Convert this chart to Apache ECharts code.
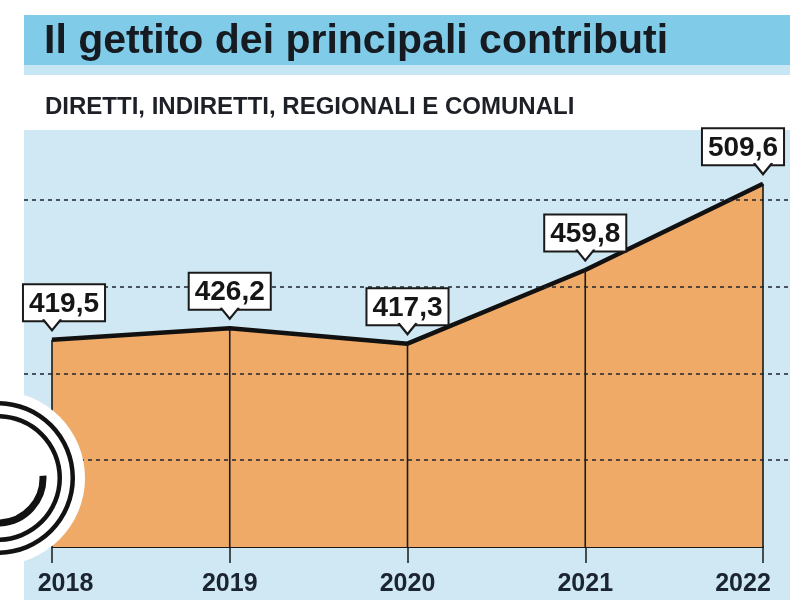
<!DOCTYPE html>
<html>
<head>
<meta charset="utf-8">
<script src="https://cdn.jsdelivr.net/npm/echarts@6/dist/echarts.min.js"></script>
<style>
html,body{margin:0;padding:0;background:#ffffff;}
#chart{width:800px;height:610px;}
</style>
</head>
<body>
<div id="chart"></div>
<script>
// ---- data ----
const years = ['2018', '2019', '2020', '2021', '2022'];
const gettito = [419.5, 426.2, 417.3, 459.8, 509.6];
const gridValues = [350, 400, 450, 500];
const titleText = 'Il gettito dei principali contributi';
const subtitleText = 'DIRETTI, INDIRETTI, REGIONALI E COMUNALI';

// ---- style ----
const FONT = '"Liberation Sans", Arial, sans-serif';
const labelShift = [12, 0, 0, 0, -20];
const pointerPath = 'path://M0,0 L9,11 L18,0';

const chart = echarts.init(document.getElementById('chart'), null, {renderer: 'canvas'});

const fmt = v => v.toFixed(1).replace('.', ',');

const option = {
  backgroundColor: '#ffffff',
  animation: false,
  title: [
    {
      text: titleText, left: 39, top: 16,
      textStyle: {fontFamily: FONT, fontSize: 41, fontWeight: 'bold', color: '#161b22'}
    },
    {
      text: subtitleText, left: 40, top: 90,
      textStyle: {fontFamily: FONT, fontSize: 24, fontWeight: 'bold', color: '#1d2127'}
    }
  ],
  graphic: [
    {type: 'rect', z: -10, shape: {x: 24, y: 15, width: 766, height: 50}, style: {fill: '#80cbe8'}},
    {type: 'rect', z: -10, shape: {x: 24, y: 65, width: 766, height: 10}, style: {fill: '#c6e6f3'}},
    {type: 'rect', z: -10, shape: {x: 24, y: 130, width: 766, height: 470}, style: {fill: '#cfe8f3'}},
    {type: 'circle', z: 100, shape: {cx: -2, cy: 478, r: 87}, style: {fill: '#ffffff'}},
    {type: 'ring', z: 101, shape: {cx: -2, cy: 478, r: 77, r0: 72.5}, style: {fill: '#121212'}},
    {type: 'ring', z: 101, shape: {cx: -2, cy: 478, r: 64, r0: 59.5}, style: {fill: '#121212'}},
    {type: 'arc', z: 101, shape: {cx: -2, cy: 478, r: 45, startAngle: -0.05, endAngle: 2.3, clockwise: true},
      style: {stroke: '#121212', lineWidth: 7, fill: null}}
  ],
  grid: [
    {left: 52, right: 37, top: 131, bottom: 63},
    {left: 24, right: 10, top: 131, bottom: 63}
  ],
  xAxis: [
    {
      type: 'category', gridIndex: 0, data: years, boundaryGap: false,
      axisLine: {show: true, lineStyle: {color: '#1a1a1a', width: 2}},
      axisTick: {show: true, alignWithLabel: true, length: 16, lineStyle: {color: '#1a1a1a', width: 1.5}},
      axisLabel: {
        margin: 25, fontFamily: FONT, fontSize: 25, fontWeight: 'bold', color: '#1b2431',
        formatter: (v, i) => i === 0 ? '{a|' + v + '}' : (i === years.length - 1 ? '{b|' + v + '}' : v),
        rich: {
          a: {padding: [0, 0, 0, 27], fontFamily: FONT, fontSize: 25, fontWeight: 'bold', color: '#1b2431'},
          b: {padding: [0, 40, 0, 0], fontFamily: FONT, fontSize: 25, fontWeight: 'bold', color: '#1b2431'}
        }
      },
      splitLine: {show: false}
    },
    {type: 'value', gridIndex: 1, min: 0, max: 1, show: false}
  ],
  yAxis: [
    {type: 'value', gridIndex: 0, min: 300, max: 540, show: false, splitLine: {show: false}},
    {type: 'value', gridIndex: 1, min: 300, max: 540, show: false, splitLine: {show: false}}
  ],
  series: [
    {
      type: 'line', xAxisIndex: 0, yAxisIndex: 0, data: gettito, z: 2,
      symbol: 'none', smooth: false,
      lineStyle: {color: '#111111', width: 4.5},
      areaStyle: {color: '#f0aa68', opacity: 1}
    },
    {
      type: 'bar', xAxisIndex: 0, yAxisIndex: 0, data: gettito, z: 3,
      barWidth: 1.6, clip: true, itemStyle: {color: '#1a1a1a'}
    },
    {
      type: 'custom', xAxisIndex: 1, yAxisIndex: 1, z: 4, silent: true,
      data: gridValues.map(v => [0, v]),
      renderItem: (params, api) => {
        const y = Math.round(api.coord([0, api.value(1)])[1]);
        const cs = params.coordSys;
        return {
          type: 'line',
          shape: {x1: cs.x, y1: y, x2: cs.x + cs.width, y2: y},
          style: {stroke: 'rgba(30,35,45,0.75)', lineWidth: 2, lineDash: [4, 4]}
        };
      }
    },
    {
      type: 'line', xAxisIndex: 0, yAxisIndex: 0, z: 5, silent: true,
      lineStyle: {opacity: 0}, symbol: 'circle', symbolSize: 1,
      itemStyle: {opacity: 0},
      data: gettito.map((v, i) => ({
        value: v,
        label: {offset: [labelShift[i], 0]}
      })),
      label: {
        show: true, position: 'top', distance: 19,
        formatter: p => fmt(p.value),
        fontFamily: FONT, fontSize: 28, fontWeight: 'bold', color: '#161616',
        backgroundColor: '#ffffff', borderColor: '#1a1a1a', borderWidth: 2,
        padding: [5, 5, 2, 5], opacity: 1
      }
    },
    {
      type: 'scatter', xAxisIndex: 0, yAxisIndex: 0, z: 6, silent: true,
      data: gettito,
      symbol: pointerPath, symbolSize: [18, 11], symbolOffset: [0, -15],
      symbolKeepAspect: false,
      itemStyle: {color: '#ffffff', borderColor: '#1a1a1a', borderWidth: 2, opacity: 1}
    }
  ]
};

chart.setOption(option);
</script>
</body>
</html>
